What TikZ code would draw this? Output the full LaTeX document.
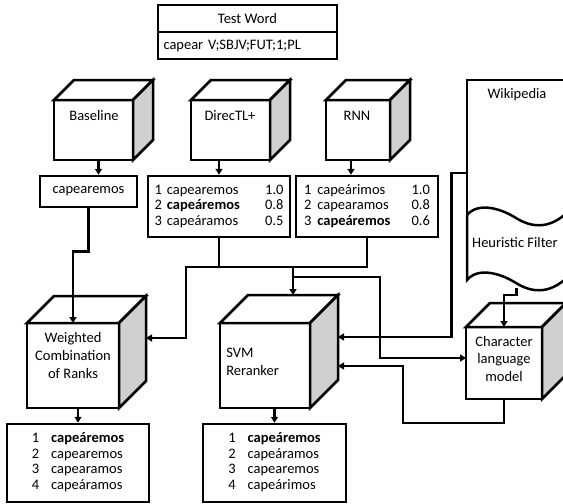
\documentclass[tikz,border=0pt]{standalone}
\usepackage{fontspec}
\setmainfont{Carlito}
\usetikzlibrary{arrows.meta,calc,positioning}
\definecolor{sidegray}{HTML}{D0D0D0}

\begin{document}
\begin{tikzpicture}[x=1pt, y=-1pt, line width=2.5pt,
    font=\fontsize{14.5}{15.6}\selectfont,
    box/.style={draw, inner sep=0pt, fill=white},
    cube/.style={draw, inner sep=0pt, outer sep=0pt, fill=white},
    arr/.style={-{Triangle[length=6pt,width=7pt]}},
    lbl/.style={inner sep=0pt, align=center, font=\fontsize{14.5}{17.7}\selectfont}]
  \useasboundingbox (0,0) rectangle (563,504);

  % test word
  \node[box, minimum width=179pt, minimum height=27pt] (testhead) at (247.5,18.5) {Test Word};
  \node[box, minimum width=179pt, minimum height=27pt, text width=168pt, align=left] (testin) at (247.5,45.5) {capear V;SBJV;FUT;1;PL};

  % systems
  \node[cube, minimum width=79pt, minimum height=60pt] (base) at (93.5,130) {};
  \node[cube, minimum width=79pt, minimum height=60pt] (dtl) at (230.5,130) {};
  \node[cube, minimum width=64pt, minimum height=60pt] (rnn) at (358,130) {};
  \node[cube, minimum width=92pt, minimum height=85pt] (wcr) at (73,365.5) {};
  \node[cube, minimum width=90pt, minimum height=85pt] (svm) at (265,365.5) {};
  \node[cube, minimum width=76pt, minimum height=72pt] (clm) at (504,363) {};
  \foreach \cb/\dep in {base/20,dtl/20,rnn/20,wcr/27,svm/28,clm/24}{
    \draw[fill=white] (\cb.north west) -- ++(\dep,-\dep) -- ($(\cb.north east)+(\dep,-\dep)$) -- (\cb.north east) -- cycle;
    \draw[fill=sidegray] (\cb.north east) -- ++(\dep,-\dep) -- ($(\cb.south east)+(\dep,-\dep)$) -- (\cb.south east) -- cycle;
  }
  \node[lbl] (base-t) at (94,116) {Baseline};
  \node[lbl] (dtl-t) at (230,116) {DirecTL+};
  \node[lbl] (rnn-t) at (357,116) {RNN};
  \node[lbl] (wcr-t) at (73,355.5) {Weighted\\Combination\\of Ranks};
  \node[lbl, align=left, anchor=west] (svm-t) at (225,362) {SVM\\Reranker};
  \node[lbl] (clm-t) at (504,359) {Character\\language\\model};

  % candidate lists
  \node[box, minimum width=97pt, minimum height=31pt] (baseout) at (88.5,191.5) {capearemos};
  \node[box, minimum width=142pt, minimum height=61pt] (dtlout) at (219,206.5) {%
    \begin{tabular*}{129pt}{@{}l@{\hspace{5pt}}l@{\extracolsep{\fill}}r@{}}
      1 & capearemos & 1.0\\
      2 & \textbf{capeáremos} & 0.8\\
      3 & capeáramos & 0.5
    \end{tabular*}};
  \node[box, minimum width=142pt, minimum height=61pt] (rnnout) at (367,206.5) {%
    \begin{tabular*}{126pt}{@{}l@{\hspace{6pt}}l@{\extracolsep{\fill}}r@{}}
      1 & capeárimos & 1.0\\
      2 & capearamos & 0.8\\
      3 & \textbf{capeáremos} & 0.6
    \end{tabular*}};
  \node[box, minimum width=142pt, minimum height=78pt] (wcrout) at (78,463) {%
    \begin{tabular}{@{}c@{\hspace{12pt}}l@{}}
      1 & \textbf{capeáremos}\\
      2 & capearemos\\
      3 & capearamos\\
      4 & capeáramos
    \end{tabular}};
  \node[box, minimum width=143pt, minimum height=78pt] (svmout) at (274.5,463) {%
    \begin{tabular}{@{}c@{\hspace{12pt}}l@{}}
      1 & \textbf{capeáremos}\\
      2 & capeáramos\\
      3 & capearemos\\
      4 & capeárimos
    \end{tabular}};

  % wikipedia and filter
  \draw (467,215) -- (467,80) -- (600,80);
  \node[lbl] (wiki) at (517,95) {Wikipedia};
  \coordinate (wikiin) at (467,173);
  \coordinate (filterout) at (516.7,288);
  \draw[arr] (filterout) -- ++(0,7) -| (clm.north);
  \draw[fill=white] (467,215) .. controls (478,202) and (500,208) .. (516,218)
    .. controls (532,228) and (548,228) .. (563,216) .. controls (575,206) and (590,205) .. (600,210)
    -- (600,275) .. controls (590,270) and (575,271) .. (563,281)
    .. controls (548,293) and (532,293) .. (516,283) .. controls (500,273) and (478,267) .. (467,280) -- cycle;
  \node[lbl] (filter) at (515,243) {Heuristic Filter};

  % connectors
  \coordinate (fork) at (293,267);
  \draw[arr] ([xshift=5pt]base.south) -- ([xshift=5pt]base.south |- baseout.north);
  \draw[arr] (dtl.south -| dtlout.north) -- (dtlout.north);
  \draw[arr] ([xshift=-7pt]rnn.south) -- ([xshift=-7pt]rnn.south |- rnnout.north);
  \draw[arr] (baseout.south) -- ++(0,43) -| (wcr.north);
  \draw (dtlout.south) -- (dtlout.south |- fork);
  \draw[arr] (rnnout.south) |- (186,267) |- ($(wcr.north east)+(27,15)$);
  \draw[arr] (fork) -- ($(svm.north)+(28,-28)$);
  \draw[arr] ([yshift=-10pt]fork) -| ([xshift=-86pt,yshift=5pt]clm.west) -- ([yshift=5pt]clm.west);
  \draw[arr] (wikiin) -- ++(-15.5,0) |- ($(svm.north east)+(28,14)$);
  \draw[arr] (clm.south) -- ++(0,24) -| (403,366) -- ($(svm.north east)+(28,43)$);
  \draw[arr] (wcr.south -| wcrout.north) -- (wcrout.north);
  \draw[arr] (svm.south -| svmout.north) -- (svmout.north);
\end{tikzpicture}
\end{document}
